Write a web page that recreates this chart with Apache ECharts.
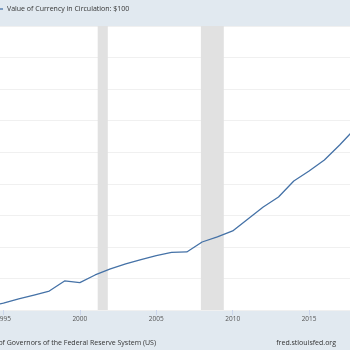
<!DOCTYPE html>
<html>
<head>
<meta charset="utf-8">
<style>
  html, body { margin: 0; padding: 0; background: #e1e9f0; }
  #chart { width: 350px; height: 350px; }
</style>
<script src="https://cdn.jsdelivr.net/npm/echarts@6/dist/echarts.min.js"></script>
</head>
<body>
<div id="chart"></div>
<script>
  // annual values, billions of dollars
  var years = [1994, 1995, 1996, 1997, 1998, 1999, 2000, 2001, 2002, 2003, 2004, 2005,
               2006, 2007, 2008, 2009, 2010, 2011, 2012, 2013, 2014, 2015, 2016, 2017, 2018];
  var values = [222, 244, 270, 295, 320, 384, 374, 422, 460, 492, 520, 545,
                565, 568, 631, 663, 701, 777, 853, 916, 1018, 1081, 1151, 1246, 1348];
  // recessions (start, end) as decimal years
  var recessions = [[2001.17, 2001.83], [2007.92, 2009.42]];
  var seriesName = 'Value of Currency in Circulation: $100';
  var sourceText = 'Source: Board of Governors of the Federal Reserve System (US)';
  var siteText = 'fred.stlouisfed.org';

  var font = '"Open Sans", sans-serif';
  var lineColor = '#4572a7';
  var chart = echarts.init(document.getElementById('chart'));

  chart.setOption({
    backgroundColor: '#e1e9f0',
    animation: false,
    textStyle: { fontFamily: font },
    grid: {
      left: -73,
      right: -35.5,
      top: 26,
      bottom: 40,
      outerBoundsMode: 'none',
      containLabel: false,
      show: true,
      backgroundColor: '#ffffff',
      borderWidth: 0
    },
    xAxis: {
      type: 'value',
      min: 1990,
      max: 2020,
      interval: 5,
      axisLine: { show: false },
      axisTick: { show: true, length: 5, lineStyle: { color: '#ccd6eb' } },
      splitLine: { show: false },
      axisLabel: { fontSize: 6.5, color: '#555', margin: 6, fontFamily: font,
                   formatter: function (v) { return String(v); } }
    },
    yAxis: {
      type: 'value',
      min: 200,
      max: 2000,
      interval: 200,
      axisLine: { show: false },
      axisTick: { show: false },
      axisLabel: { show: false },
      splitLine: { lineStyle: { color: '#f0f0f0', width: 1 } }
    },
    graphic: [
      // legend: line key cut at the left edge, then the series name
      {
        type: 'line',
        shape: { x1: -6, y1: 9, x2: 3, y2: 9 },
        style: { stroke: lineColor, lineWidth: 1.3 }
      },
      {
        type: 'text',
        left: 7,
        top: 5,
        style: { text: seriesName, fill: '#333', font: '7px ' + font }
      },
      {
        type: 'text',
        right: 350 - 156,
        top: 339,
        style: { text: sourceText, fill: '#333', font: '7px ' + font, textAlign: 'right' }
      },
      {
        type: 'text',
        right: 14,
        top: 339,
        style: { text: siteText, fill: '#333', font: '7px ' + font }
      }
    ],
    series: [
      {
        name: seriesName,
        type: 'line',
        symbol: 'none',
        lineStyle: { color: lineColor, width: 1.3 },
        itemStyle: { color: lineColor },
        data: years.map(function (y, i) { return [y, values[i]]; }),
        markArea: {
          silent: true,
          itemStyle: { color: '#e1e1e1' },
          data: recessions.map(function (r) { return [{ xAxis: r[0] }, { xAxis: r[1] }]; })
        },
        z: 3
      }
    ]
  });
</script>
</body>
</html>
